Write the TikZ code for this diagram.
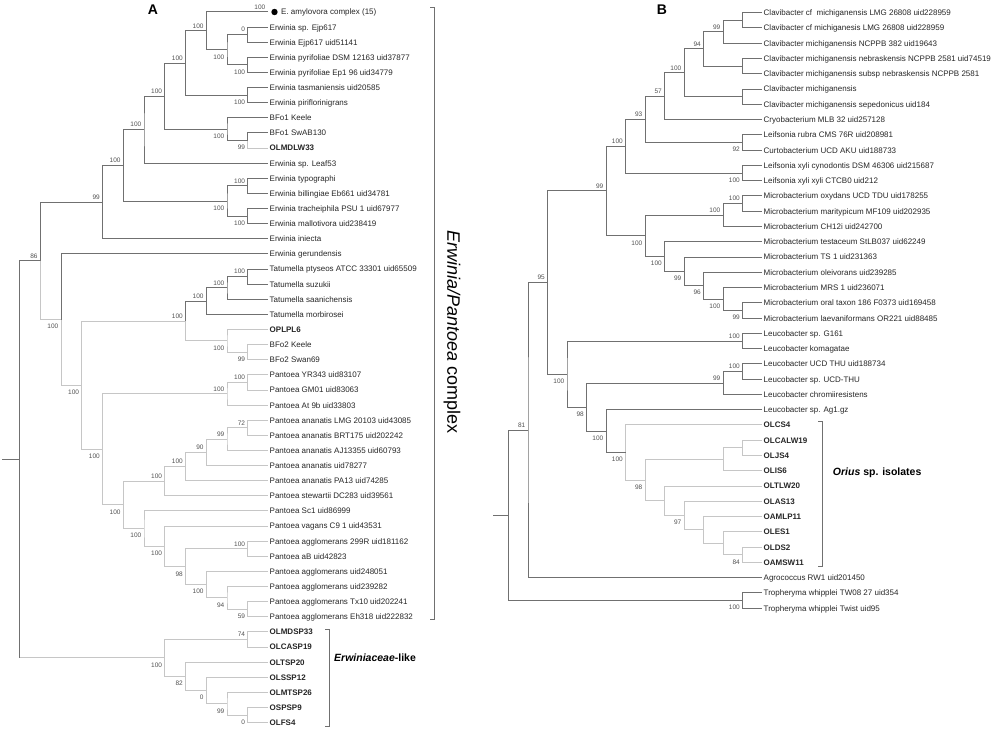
\documentclass[tikz,border=0pt]{standalone}
\usepackage{fontspec}
\setmainfont{Liberation Sans}
\definecolor{treedark}{HTML}{707070}
\definecolor{treelight}{HTML}{C6C6C6}
\definecolor{labgrey}{HTML}{505050}

\begin{document}
\begin{tikzpicture}[x=1pt,y=-1pt,
  dk/.style={draw=treedark,line width=1pt},
  lt/.style={draw=treelight,line width=1pt},
  brk/.style={draw=treedark,line width=0.9pt},
  leaf/.style={anchor=base west,inner sep=0pt,yshift=-2.9pt,font=\fontsize{8}{9}\selectfont,text=black!85},
  bsa/.style={anchor=base east,inner sep=0pt,xshift=-2.5pt,yshift=2.7pt,font=\fontsize{6.5}{7}\selectfont,text=labgrey},
  bsb/.style={anchor=base east,inner sep=0pt,xshift=-2.5pt,yshift=-9.3pt,font=\fontsize{6.5}{7}\selectfont,text=labgrey},
  panel/.style={inner sep=0pt,font=\fontsize{14}{16}\selectfont\bfseries},
  group/.style={anchor=west,inner sep=0pt,font=\fontsize{10.5}{12}\selectfont\bfseries}]
\useasboundingbox (0,0) rectangle (1000,730);

% ---------------- panel A ----------------
\node[panel] (pA) at (153,10) {A};
% leaves, tips at x=268, one row every 15.12
\coordinate (ta0) at (268,12);
\fill[black] ([xshift=6.5pt]ta0) circle (3.2pt);
\node[leaf] (la0) at ([xshift=13pt]ta0) {E. amylovora complex (15)};
\foreach \t [count=\i from 1] in {Erwinia sp. Ejp617, Erwinia Ejp617 uid51141,
  Erwinia pyrifoliae DSM 12163 uid37877, Erwinia pyrifoliae Ep1 96 uid34779,
  Erwinia tasmaniensis uid20585, Erwinia piriflorinigrans, BFo1 Keele, BFo1 SwAB130,
  \textbf{OLMDLW33}, Erwinia sp. Leaf53, Erwinia typographi, Erwinia billingiae Eb661 uid34781,
  Erwinia tracheiphila PSU 1 uid67977, Erwinia mallotivora uid238419, Erwinia iniecta,
  Erwinia gerundensis, Tatumella ptyseos ATCC 33301 uid65509, Tatumella suzukii,
  Tatumella saanichensis, Tatumella morbirosei, \textbf{OPLPL6}, BFo2 Keele, BFo2 Swan69,
  Pantoea YR343 uid83107, Pantoea GM01 uid83063, Pantoea At 9b uid33803,
  Pantoea ananatis LMG 20103 uid43085, Pantoea ananatis BRT175 uid202242,
  Pantoea ananatis AJ13355 uid60793, Pantoea ananatis uid78277, Pantoea ananatis PA13 uid74285,
  Pantoea stewartii DC283 uid39561, Pantoea Sc1 uid86999, Pantoea vagans C9 1 uid43531,
  Pantoea agglomerans 299R uid181162, Pantoea aB uid42823, Pantoea agglomerans uid248051,
  Pantoea agglomerans uid239282, Pantoea agglomerans Tx10 uid202241,
  Pantoea agglomerans Eh318 uid222832, \textbf{OLMDSP33}, \textbf{OLCASP19}, \textbf{OLTSP20},
  \textbf{OLSSP12}, \textbf{OLMTSP26}, \textbf{OSPSP9}, \textbf{OLFS4}}{
  \coordinate (ta\i) at (268,{12+15.12*\i});
  \node[leaf] (la\i) at ([xshift=1.5pt]ta\i) {\t};
}
% internal nodes (x by depth, y half way between the children)
\coordinate (e1) at (247.75,34.68);
\coordinate (e2) at (247.75,64.92);
\coordinate (e3) at (227,49.80);
\coordinate (e4) at (206.25,30.90);
\coordinate (e5) at (247.75,95.16);
\coordinate (e6) at (185.5,63.03);
\coordinate (e7) at (247.75,140.52);
\coordinate (e8) at (227,129.18);
\coordinate (e9) at (164.75,96.11);
\coordinate (e10) at (144,129.65);
\coordinate (e11) at (247.75,185.88);
\coordinate (e12) at (247.75,216.12);
\coordinate (e13) at (227,201.00);
\coordinate (e14) at (123.25,165.33);
\coordinate (e15) at (102.5,202.06);
\coordinate (t1) at (247.75,276.60);
\coordinate (t2) at (227,287.94);
\coordinate (t3) at (206.25,301.17);
\coordinate (b1) at (247.75,352.20);
\coordinate (b2) at (227,340.86);
\coordinate (t4) at (185.5,321.02);
\coordinate (p1) at (247.75,382.44);
\coordinate (p2) at (227,393.78);
\coordinate (p3) at (247.75,427.80);
\coordinate (p4) at (227,439.14);
\coordinate (p5) at (206.25,452.37);
\coordinate (p6) at (185.5,466.55);
\coordinate (p7) at (164.75,481.19);
\coordinate (p8) at (247.75,548.76);
\coordinate (p9) at (247.75,609.24);
\coordinate (p10) at (227,597.90);
\coordinate (p11) at (206.25,584.67);
\coordinate (p12) at (185.5,566.72);
\coordinate (p13) at (164.75,546.40);
\coordinate (p14) at (144,528.68);
\coordinate (p15) at (123.25,504.94);
\coordinate (p16) at (102.5,449.36);
\coordinate (m1) at (81.75,385.19);
\coordinate (m2) at (61,319.56);
\coordinate (m3) at (40.25,260.81);
\coordinate (w1) at (247.75,639.48);
\coordinate (w2) at (247.75,715.08);
\coordinate (w3) at (227,703.74);
\coordinate (w4) at (206.25,690.51);
\coordinate (w5) at (185.5,676.34);
\coordinate (w6) at (164.75,657.91);
\coordinate (rA) at (19.5,459.36);
\coordinate (sA) at (2,459.36);
% Erwinia
\draw[dk] (ta1) -| (e1) |- (ta2);
\draw[dk] (ta3) -| (e2) |- (ta4);
\draw[dk] (e1) -| (e3) |- (e2);
\draw[dk] (ta0) -| (e4) |- (e3);
\draw[dk] (ta5) -| (e5) |- (ta6);
\draw[dk] (e4) -| (e6) |- (e5);
\draw[dk] (ta8) -| (e7); \draw[lt] (e7) |- (ta9);
\draw[dk] (ta7) -| (e8) |- (e7);
\draw[dk] (e6) -| (e9) |- (e8);
\draw[dk] (e9) -| (e10) |- (ta10);
\draw[dk] (ta11) -| (e11) |- (ta12);
\draw[dk] (ta13) -| (e12) |- (ta14);
\draw[dk] (e11) -| (e13) |- (e12);
\draw[dk] (e10) -| (e14) |- (e13);
\draw[dk] (e14) -| (e15) |- (ta15);
% Tatumella and BFo2
\draw[dk] (ta17) -| (t1) |- (ta18);
\draw[dk] (t1) -| (t2) |- (ta19);
\draw[dk] (t2) -| (t3) |- (ta20);
\draw[lt] (ta22) -| (b1) |- (ta23);
\draw[lt] (ta21) -| (b2) |- (b1);
\draw[dk] (t3) -| (t4); \draw[lt] (t4) |- (b2);
% Pantoea
\draw[lt] (ta24) -| (p1) |- (ta25);
\draw[lt] (p1) -| (p2) |- (ta26);
\draw[lt] (ta27) -| (p3) |- (ta28);
\draw[lt] (p3) -| (p4) |- (ta29);
\draw[lt] (p4) -| (p5) |- (ta30);
\draw[lt] (p5) -| (p6) |- (ta31);
\draw[lt] (p6) -| (p7) |- (ta32);
\draw[lt] (ta35) -| (p8) |- (ta36);
\draw[lt] (ta39) -| (p9) |- (ta40);
\draw[lt] (ta38) -| (p10) |- (p9);
\draw[lt] (ta37) -| (p11) |- (p10);
\draw[lt] (p8) -| (p12) |- (p11);
\draw[lt] (ta34) -| (p13) |- (p12);
\draw[lt] (ta33) -| (p14) |- (p13);
\draw[lt] (p7) -| (p15) |- (p14);
\draw[lt] (p2) -| (p16) |- (p15);
\draw[lt] (t4) -| (m1) |- (p16);
\draw[dk] (ta16) -| (m2); \draw[lt] (m2) |- (m1);
\draw[dk] (e15) -| (m3); \draw[lt] (m3) |- (m2);
% Erwiniaceae-like isolates
\draw[lt] (ta41) -| (w1) |- (ta42);
\draw[lt] (ta46) -| (w2) |- (ta47);
\draw[lt] (ta45) -| (w3) |- (w2);
\draw[lt] (ta44) -| (w4) |- (w3);
\draw[lt] (ta43) -| (w5) |- (w4);
\draw[lt] (w1) -| (w6) |- (w5);
% root
\draw[dk] (m3) -| (rA) -- (rA |- w6);
\draw[lt] (rA |- w6) -- (w6);
\draw[dk] (sA) -- (rA);
% bootstrap values
\foreach \c/\v in {e1/0, e4/100, e6/100, e9/100, e10/100, e11/100, e14/100, e15/99, m3/86,
  t1/100, t2/100, t3/100, t4/100, p1/100, p2/100, p3/72, p4/99, p5/90, p6/100, p7/100,
  p8/100, w1/74, ta0/100}
  \node[bsa] (v\c) at (\c) {\v};
\foreach \c/\v in {e2/100, e3/100, e5/100, e7/99, e8/100, e12/100, e13/100, b1/99, b2/100,
  p9/59, p10/94, p11/100, p12/98, p13/100, p14/100, p15/100, p16/100, m1/100, m2/100,
  w2/0, w3/99, w4/0, w5/82, w6/100}
  \node[bsb] (v\c) at (\c) {\v};
% brackets
\draw[brk] (430,7.5) -- (434.5,7.5) -- (434.5,619) -- (430,619);
\node[rotate=-90,inner sep=0pt,font=\fontsize{18}{20}\selectfont] (cplx) at (452,332) {\textit{Erwinia/Pantoea} complex};
\draw[brk] (325,629) -- (329,629) -- (329,726) -- (325,726);
\node[group] (erlike) at (334,658) {\textit{Erwiniaceae}-like};

% ---------------- panel B ----------------
\node[panel] (pB) at (662,9.5) {B};
\foreach \t [count=\i from 0] in {Clavibacter cf\ \ michiganensis LMG 26808 uid228959,
  Clavibacter cf michiganesis LMG 26808 uid228959, Clavibacter michiganensis NCPPB 382 uid19643,
  Clavibacter michiganensis nebraskensis NCPPB 2581 uid74519,
  Clavibacter michiganensis subsp nebraskensis NCPPB 2581, Clavibacter michiganensis,
  Clavibacter michiganensis sepedonicus uid184, Cryobacterium MLB 32 uid257128,
  Leifsonia rubra CMS 76R uid208981, Curtobacterium UCD AKU uid188733,
  Leifsonia xyli cynodontis DSM 46306 uid215687, Leifsonia xyli xyli CTCB0 uid212,
  Microbacterium oxydans UCD TDU uid178255, Microbacterium maritypicum MF109 uid202935,
  Microbacterium CH12i uid242700, Microbacterium testaceum StLB037 uid62249,
  Microbacterium TS 1 uid231363, Microbacterium oleivorans uid239285,
  Microbacterium MRS 1 uid236071, Microbacterium oral taxon 186 F0373 uid169458,
  Microbacterium laevaniformans OR221 uid88485, Leucobacter sp. G161, Leucobacter komagatae,
  Leucobacter UCD THU uid188734, Leucobacter sp. UCD-THU, Leucobacter chromiiresistens,
  Leucobacter sp. Ag1.gz, \textbf{OLCS4}, \textbf{OLCALW19}, \textbf{OLJS4}, \textbf{OLIS6},
  \textbf{OLTLW20}, \textbf{OLAS13}, \textbf{OAMLP11}, \textbf{OLES1}, \textbf{OLDS2},
  \textbf{OAMSW11}, Agrococcus RW1 uid201450, Tropheryma whipplei TW08 27 uid354,
  Tropheryma whipplei Twist uid95}{
  \coordinate (tb\i) at (762,{12.7+15.27*\i});
  \node[leaf] (lb\i) at ([xshift=1.5pt]tb\i) {\t};
}
\coordinate (c1) at (742.5,20.34);
\coordinate (c2) at (723,31.79);
\coordinate (c3) at (742.5,66.15);
\coordinate (c4) at (703.5,48.97);
\coordinate (c5) at (742.5,96.69);
\coordinate (c6) at (684,72.83);
\coordinate (c7) at (664.5,96.21);
\coordinate (c8) at (742.5,142.50);
\coordinate (c9) at (645,119.35);
\coordinate (c10) at (742.5,173.04);
\coordinate (c11) at (625.5,146.19);
\coordinate (k1) at (742.5,203.58);
\coordinate (k2) at (723,215.03);
\coordinate (k3) at (742.5,310.47);
\coordinate (k4) at (723,299.01);
\coordinate (k5) at (703.5,285.65);
\coordinate (k6) at (684,271.34);
\coordinate (k7) at (664.5,256.54);
\coordinate (k8) at (645,235.79);
\coordinate (c12) at (606,190.99);
\coordinate (l1) at (742.5,341.01);
\coordinate (l2) at (742.5,371.55);
\coordinate (l3) at (723,383.00);
\coordinate (o1) at (742.5,447.90);
\coordinate (o2) at (723,459.35);
\coordinate (o3) at (742.5,554.79);
\coordinate (o4) at (723,543.33);
\coordinate (o5) at (703.5,529.97);
\coordinate (o6) at (684,515.66);
\coordinate (o7) at (664.5,500.86);
\coordinate (o8) at (645,480.11);
\coordinate (o9) at (625.5,452.55);
\coordinate (l4) at (606,431.14);
\coordinate (l5) at (586.5,407.07);
\coordinate (l6) at (567,374.04);
\coordinate (c13) at (547.5,282.52);
\coordinate (c14) at (528,430.10);
\coordinate (r1) at (742.5,600.60);
\coordinate (rB) at (508.5,515.35);
\coordinate (sB) at (493,515.35);
% Clavibacter to Leifsonia
\draw[dk] (tb0) -| (c1) |- (tb1);
\draw[dk] (c1) -| (c2) |- (tb2);
\draw[dk] (tb3) -| (c3) |- (tb4);
\draw[dk] (c2) -| (c4) |- (c3);
\draw[dk] (tb5) -| (c5) |- (tb6);
\draw[dk] (c4) -| (c6) |- (c5);
\draw[dk] (c6) -| (c7) |- (tb7);
\draw[dk] (tb8) -| (c8) |- (tb9);
\draw[dk] (c7) -| (c9) |- (c8);
\draw[dk] (tb10) -| (c10) |- (tb11);
\draw[dk] (c9) -| (c11) |- (c10);
% Microbacterium
\draw[dk] (tb12) -| (k1) |- (tb13);
\draw[dk] (k1) -| (k2) |- (tb14);
\draw[dk] (tb19) -| (k3) |- (tb20);
\draw[dk] (tb18) -| (k4) |- (k3);
\draw[dk] (tb17) -| (k5) |- (k4);
\draw[dk] (tb16) -| (k6) |- (k5);
\draw[dk] (tb15) -| (k7) |- (k6);
\draw[dk] (k2) -| (k8) |- (k7);
\draw[dk] (c11) -| (c12) |- (k8);
% Leucobacter and the Orius isolates
\draw[dk] (tb21) -| (l1) |- (tb22);
\draw[dk] (tb23) -| (l2) |- (tb24);
\draw[dk] (l2) -| (l3) |- (tb25);
\draw[lt] (tb28) -| (o1) |- (tb29);
\draw[lt] (o1) -| (o2) |- (tb30);
\draw[lt] (tb35) -| (o3) |- (tb36);
\draw[lt] (tb34) -| (o4) |- (o3);
\draw[lt] (tb33) -| (o5) |- (o4);
\draw[lt] (tb32) -| (o6) |- (o5);
\draw[lt] (tb31) -| (o7) |- (o6);
\draw[lt] (o2) -| (o8) |- (o7);
\draw[lt] (tb27) -| (o9) |- (o8);
\draw[dk] (tb26) -| (l4) |- (o9);
\draw[dk] (l3) -| (l5) |- (l4);
\draw[dk] (l1) -| (l6) |- (l5);
\draw[dk] (c12) -| (c13) |- (l6);
\draw[dk] (c13) -| (c14) |- (tb37);
\draw[dk] (tb38) -| (r1) |- (tb39);
\draw[dk] (c14) -| (rB) |- (r1);
\draw[dk] (sB) -- (rB);
% bootstrap values
\foreach \c/\v in {c2/99, c4/94, c6/100, c7/57, c9/93, c11/100, k1/100, k2/100, c12/99,
  l1/100, l2/100, l3/99, c13/95, c14/81}
  \node[bsa] (v\c) at (\c) {\v};
\foreach \c/\v in {c8/92, c10/100, k3/99, k4/100, k5/96, k6/99, k7/100, k8/100, o3/84,
  o6/97, o8/98, o9/100, l4/100, l5/98, l6/100, r1/100}
  \node[bsb] (v\c) at (\c) {\v};
\draw[brk] (818,421) -- (822.3,421) -- (822.3,566.7) -- (818,566.7);
\node[group] (orius) at (832.7,472.7) {\textit{Orius} sp. isolates};
\end{tikzpicture}
\end{document}
